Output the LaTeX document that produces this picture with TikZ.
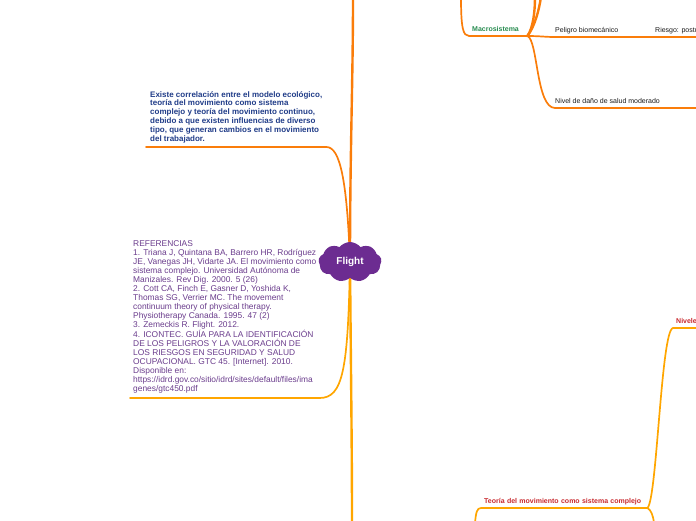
\documentclass[tikz,border=0pt]{standalone}
\usepackage{fontspec}
\setmainfont{Liberation Sans}
\usepackage{xcolor}
\usepackage{tikz}
\definecolor{mapOrange}{RGB}{250, 125, 10}
\definecolor{mapAmber}{RGB}{255, 166, 0}
\definecolor{cloudPurple}{RGB}{108, 44, 145}
\definecolor{refPurple}{RGB}{106, 60, 140}
\definecolor{noteBlue}{RGB}{32, 60, 136}
\definecolor{macroGreen}{RGB}{40, 140, 80}
\definecolor{theoryRed}{RGB}{200, 40, 45}
\definecolor{leafGray}{RGB}{25, 25, 25}
\usetikzlibrary{shapes.symbols, positioning, backgrounds}

\begin{document}
\begin{tikzpicture}[
        x=1pt, y=-1pt,
        trunk/.style={line width=2.4pt, line cap=round},
        branch/.style={line width=1.7pt, line cap=round},
        centernode/.style={cloud, cloud puffs=9, cloud puff arc=105, aspect=1.7, minimum width=63pt, minimum height=40pt, inner sep=0pt, fill=cloudPurple, text=white, font=\fontsize{10}{12}\selectfont\bfseries},
        notenode/.style={anchor=south west, align=left, inner xsep=4pt, inner ysep=4pt, text=noteBlue, font=\fontsize{8}{8.8}\selectfont\bfseries},
        refnode/.style={anchor=south west, align=left, inner xsep=3pt, inner ysep=4.5pt, text=refPurple, font=\fontsize{8.4}{9.0}\selectfont},
        topicnode/.style={anchor=south west, inner xsep=3pt, inner ysep=2.5pt, text depth=1.5pt, font=\fontsize{7}{8}\selectfont\bfseries},
        leafnode/.style={anchor=south west, inner xsep=0pt, inner ysep=2.5pt, text depth=1.5pt, text=leafGray, font=\fontsize{7}{8}\selectfont}
    ]
        \useasboundingbox (0,0) rectangle (696,520);

        % Central topic
        \node[centernode] (flight) at (350,262) {Flight};

        % Notes on the left
        \node[notenode] (corr) at (146,147) {Existe correlación entre el modelo ecológico,\\teoría del movimiento como sistema\\complejo y teoría del movimiento continuo,\\debido a que existen influencias de diverso\\tipo, que generan cambios en el movimiento\\del trabajador.};
        \node[refnode] (refs) at (130,398) {REFERENCIAS\\1. Triana J, Quintana BA, Barrero HR, Rodríguez\\JE, Vanegas JH, Vidarte JA. El movimiento como\\sistema complejo. Universidad Autónoma de\\Manizales. Rev Dig. 2000. 5 (26)\\2. Cott CA, Finch E, Gasner D, Yoshida K,\\Thomas SG, Verrier MC. The movement\\continuum theory of physical therapy.\\Physiotherapy Canada. 1995. 47 (2)\\3. Zemeckis R. Flight. 2012.\\4. ICONTEC. GUÍA PARA LA IDENTIFICACIÓN\\DE LOS PELIGROS Y LA VALORACIÓN DE\\LOS RIESGOS EN SEGURIDAD Y SALUD\\OCUPACIONAL. GTC 45. [Internet]. 2010.\\Disponible en:\\https://idrd.gov.co/sitio/idrd/sites/default/files/ima\\genes/gtc450.pdf};

        % Upper right
        \node[topicnode, text=macroGreen, text width=52pt] (macro) at (469,36) {Macrosistema};
        \node[leafnode] (peligro) at (555,37) {Peligro biomecánico};
        \node[leafnode] (riesgo) at (655,37) {Riesgo: postural};
        \node[leafnode] (nivelDano) at (555,108) {Nivel de daño de salud moderado};

        % Lower right
        \node[topicnode, text=theoryRed, text width=160pt] (teoria) at (481,508) {Teoría del movimiento como sistema complejo};
        \node[topicnode, text=theoryRed] (niveles) at (673,328) {Niveles};

        % Free ends
        \coordinate (topEnd) at (353,-3);
        \coordinate (bottomEnd) at (352,523);
        \coordinate (macroIn) at (461,-3);
        \coordinate (upLeft) at (535,-3);
        \coordinate (upRight) at (541,-3);
        \coordinate (nivelOut) at (700,108);
        \coordinate (teoriaIn) at (475,523);
        \coordinate (teoriaOut) at (654,523);

        \begin{scope}[on background layer]
            % Trunk
            \draw[trunk, mapOrange] (flight.center) .. controls (350,150) and (353,80) .. (topEnd);
            \draw[trunk, mapAmber] (flight.center) .. controls (351,380) and (352,450) .. (bottomEnd);
            % Left notes
            \draw[branch, mapOrange] (flight.center) .. controls (347,180) and (340,147) .. (corr.south east) -- (corr.south west);
            \draw[branch, mapAmber] (flight.center) .. controls (348,370) and (343,398) .. (refs.south east) -- (refs.south west);
        \end{scope}

        % Macrosistema branches
        \draw[branch, mapOrange] (macroIn) .. controls (461,28) and (463,36) .. (macro.south west) -- (macro.south east);
        \draw[trunk, mapOrange] (macro.south east) .. controls (533,28) and (535,12) .. (upLeft);
        \draw[trunk, mapOrange] (macro.south east) .. controls (535,26) and (539,10) .. (upRight);
        \draw[branch, mapOrange] (macro.south east) .. controls (540,36) and (545,37) .. (peligro.south west) -- (peligro.south east) -- (riesgo.south west) -- (riesgo.south east);
        \draw[branch, mapOrange] (macro.south east) .. controls (538,40) and (536,108) .. (nivelDano.south west) -- (nivelDano.south east) -- (nivelOut);

        % Teoria branches
        \draw[branch, mapAmber] (teoriaIn) .. controls (476,512) and (477,508) .. (teoria.south west) -- (teoria.south east);
        \draw[branch, mapAmber] (teoria.south east) .. controls (657,500) and (661,330) .. (niveles.south west) -- (niveles.south east);
        \draw[branch, mapAmber] (teoria.south east) .. controls (651,510) and (653,515) .. (teoriaOut);
\end{tikzpicture}
\end{document}
